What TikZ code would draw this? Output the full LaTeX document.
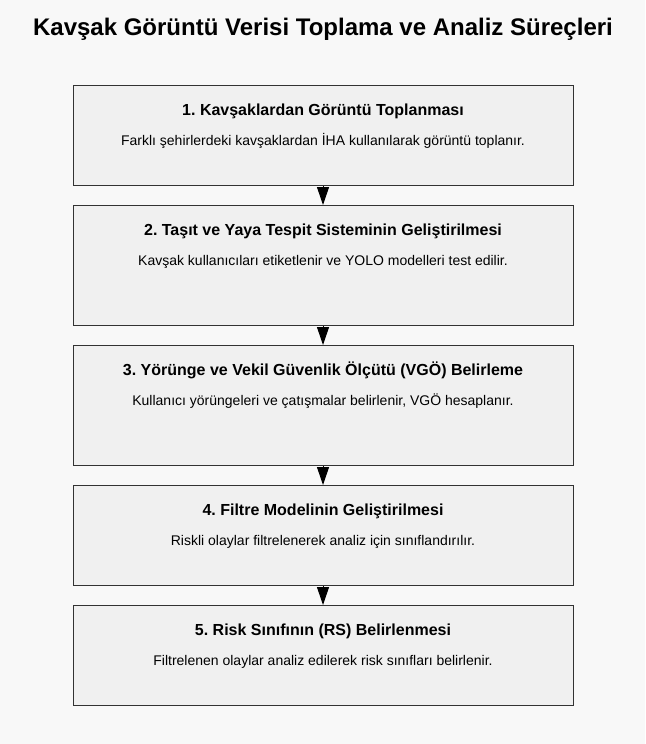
\documentclass[tikz,border=0pt]{standalone}
\usepackage{fontspec}
\setmainfont{Liberation Sans}
\usetikzlibrary{arrows.meta}

\definecolor{pagebg}{HTML}{F8F8F8}
\definecolor{stepfill}{HTML}{F0F0F0}
\definecolor{stepline}{HTML}{333333}

\tikzset{
  stepbox/.style={draw=stepline, fill=stepfill, line width=1pt, anchor=north,
    minimum width=500pt, inner sep=0pt},
  steptitle/.style={font=\bfseries\fontsize{16}{19}\selectfont, anchor=base},
  steptext/.style={font=\fontsize{14}{17}\selectfont, anchor=base},
  flow/.style={-{Triangle[width=12pt,length=18pt]}, line width=1pt, black}
}

\begin{document}
\frenchspacing
\begin{tikzpicture}[x=1pt, y=-1pt]
\fill[pagebg] (0, 0) rectangle (645, 744);
\useasboundingbox (0, 0) rectangle (645, 744);

\node[font=\bfseries\fontsize{24}{28}\selectfont, anchor=base] (title) at (323, 35) {Kavşak Görüntü Verisi Toplama ve Analiz Süreçleri};

% step boxes
\node[stepbox, minimum height=100pt] (s1) at (323, 85) {};
\node[stepbox, minimum height=120pt] (s2) at (323, 205) {};
\node[stepbox, minimum height=120pt] (s3) at (323, 345) {};
\node[stepbox, minimum height=100pt] (s4) at (323, 485) {};
\node[stepbox, minimum height=100pt] (s5) at (323, 605) {};

% headings and descriptions
\node[steptitle] (s1h) at (323, 115) {1. Kavşaklardan Görüntü Toplanması};
\node[steptext] (s1t) at (323, 145) {Farklı şehirlerdeki kavşaklardan İHA kullanılarak görüntü toplanır.};

\node[steptitle] (s2h) at (323, 235) {2. Taşıt ve Yaya Tespit Sisteminin Geliştirilmesi};
\node[steptext] (s2t) at (323, 265) {Kavşak kullanıcıları etiketlenir ve YOLO modelleri test edilir.};

\node[steptitle] (s3h) at (323, 375) {3. Yörünge ve Vekil Güvenlik Ölçütü (VGÖ) Belirleme};
\node[steptext] (s3t) at (323, 405) {Kullanıcı yörüngeleri ve çatışmalar belirlenir, VGÖ hesaplanır.};

\node[steptitle] (s4h) at (323, 515) {4. Filtre Modelinin Geliştirilmesi};
\node[steptext] (s4t) at (323, 545) {Riskli olaylar filtrelenerek analiz için sınıflandırılır.};

\node[steptitle] (s5h) at (323, 635) {5. Risk Sınıfının (RS) Belirlenmesi};
\node[steptext] (s5t) at (323, 665) {Filtrelenen olaylar analiz edilerek risk sınıfları belirlenir.};

% arrows
\draw[flow] (s1.south) -- (s2.north);
\draw[flow] (s2.south) -- (s3.north);
\draw[flow] (s3.south) -- (s4.north);
\draw[flow] (s4.south) -- (s5.north);
\end{tikzpicture}
\end{document}
